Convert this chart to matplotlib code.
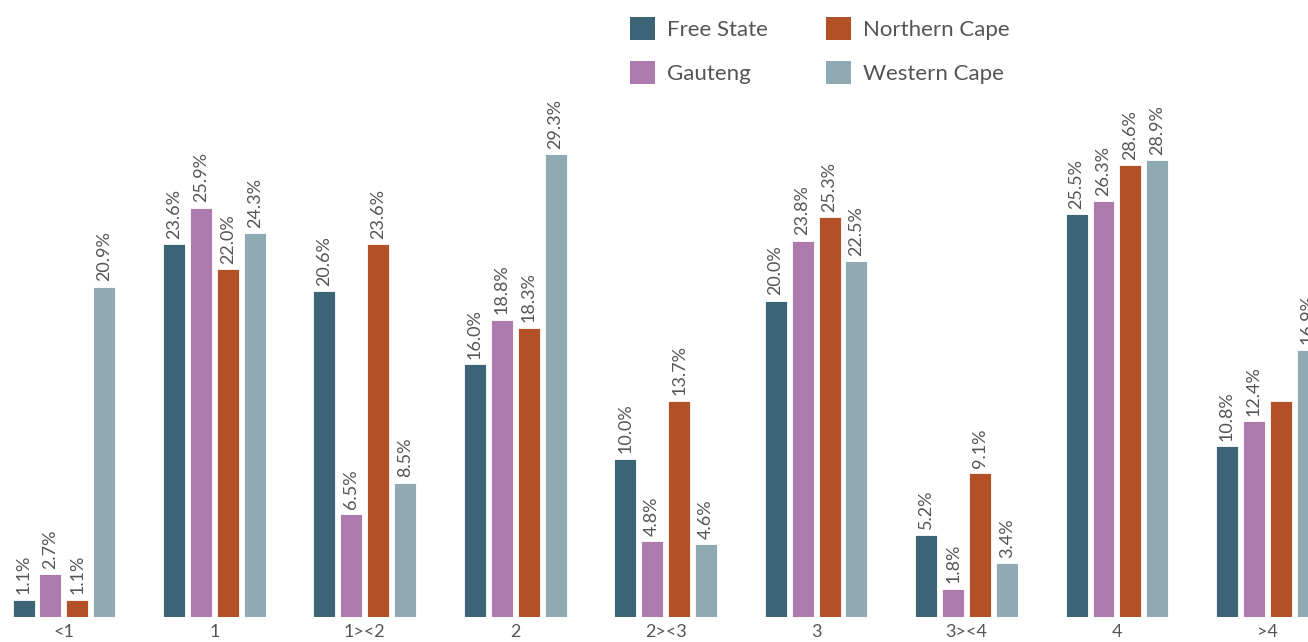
import numpy as np
import matplotlib.pyplot as plt
from matplotlib.patches import Patch

plt.rcParams['font.family'] = ['Lato', 'DejaVu Sans']

categories = ['<1', '1', '1><2', '2', '2><3', '3', '3><4', '4', '>4']
free_state = [1.1, 23.6, 20.6, 16.0, 10.0, 20.0, 5.2, 25.5, 10.8]
gauteng = [2.7, 25.9, 6.5, 18.8, 4.8, 23.8, 1.8, 26.3, 12.4]
northern_cape = [1.1, 22.0, 23.6, 18.3, 13.7, 25.3, 9.1, 28.6, 13.7]
western_cape = [20.9, 24.3, 8.5, 29.3, 4.6, 22.5, 3.4, 28.9, 16.9]

series = [
    ('Free State', free_state, '#3b6577'),
    ('Gauteng', gauteng, '#ad7aae'),
    ('Northern Cape', northern_cape, '#b35126'),
    ('Western Cape', western_cape, '#8faab2'),
]

text_color = '#555555'
step = 0.179
width = 0.146

fig = plt.figure(figsize=(13.08, 6.42), dpi=100)
ax = fig.add_axes([0, 0.039, 1, 0.961])

x = np.arange(len(categories))
for i, (name, vals, color) in enumerate(series):
    pos = x + (i - 1.5) * step
    ax.bar(pos, vals, width=width, color=color, edgecolor='white', linewidth=0.6)
    for j, (px, v) in enumerate(zip(pos, vals)):
        # last group's Northern Cape value has no label
        if name == 'Northern Cape' and j == len(categories) - 1:
            continue
        ax.text(px, v + 0.35, f'{v:.1f}%', rotation=90, ha='center', va='bottom',
                fontsize=13, color=text_color)

ax.set_xlim(-0.425, 8.27)
ax.set_ylim(0, 39.05)
ax.set_xticks(x)
ax.set_xticklabels(categories, fontsize=13, color=text_color)
ax.tick_params(axis='x', length=0, pad=5)
ax.set_yticks([])
for s in ax.spines.values():
    s.set_visible(False)

handles = [Patch(facecolor=c, label=n) for n, _, c in series]
leg = fig.legend(handles, [s[0] for s in series],
                 ncol=2, loc='upper left', bbox_to_anchor=(0.4714, 0.994),
                 frameon=False, fontsize=16, handlelength=1.12, handleheight=1.2,
                 handletextpad=0.55, labelspacing=0.95, columnspacing=2.6,
                 borderpad=0.3, borderaxespad=0.3)
for t in leg.get_texts():
    t.set_color(text_color)

fig.savefig('out.png', dpi=100)
